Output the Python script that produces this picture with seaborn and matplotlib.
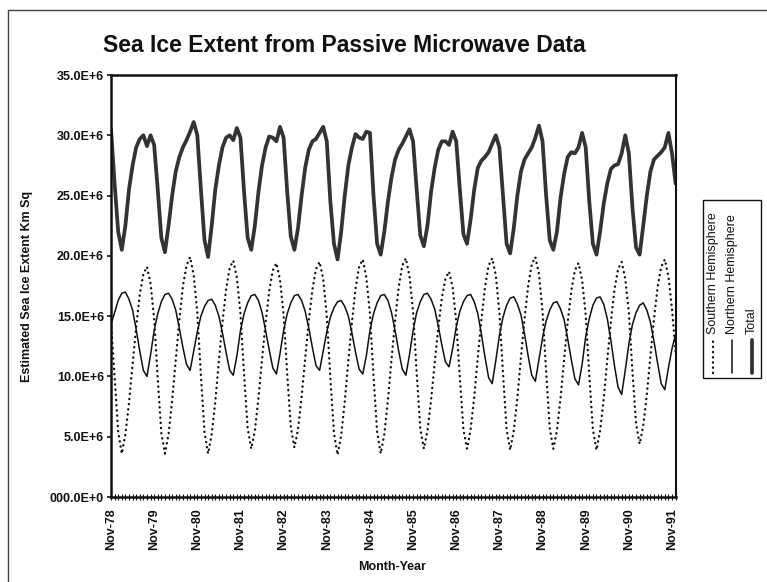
import numpy as np
import pandas as pd
import matplotlib
matplotlib.use("Agg")
import matplotlib.pyplot as plt
import seaborn as sns
from matplotlib.lines import Line2D
from matplotlib.patches import Rectangle

# ---- data (million km^2), monthly from Nov-78 to Dec-91 ----
northern = [
    14.3, 15.3, 16.3, 16.9, 17.0, 16.4, 15.5, 13.9, 12.1, 10.5, 10.0, 11.8,
    13.8, 15.2, 16.2, 16.8, 16.9, 16.4, 15.5, 14.0, 12.4, 11.0, 10.5, 12.1,
    13.7, 15.0, 15.8, 16.3, 16.4, 15.9, 15.0, 13.6, 12.0, 10.5, 10.1, 11.7,
    13.8, 15.2, 16.1, 16.7, 16.8, 16.3, 15.3, 13.8, 12.2, 10.7, 10.2, 11.9,
    13.8, 15.2, 16.1, 16.7, 16.8, 16.3, 15.4, 14.0, 12.4, 10.9, 10.5, 12.1,
    13.7, 14.9, 15.7, 16.2, 16.3, 15.8, 15.0, 13.6, 12.0, 10.6, 10.2, 11.7,
    13.8, 15.2, 16.1, 16.7, 16.8, 16.3, 15.3, 13.8, 12.1, 10.6, 10.1, 11.8,
    13.8, 15.3, 16.2, 16.8, 16.9, 16.4, 15.6, 14.2, 12.6, 11.2, 10.8, 12.3,
    14.1, 15.4, 16.2, 16.7, 16.8, 16.2, 15.2, 13.5, 11.6, 9.9, 9.4, 11.3,
    13.4, 14.9, 15.9, 16.5, 16.6, 16.0, 15.1, 13.5, 11.7, 10.1, 9.6, 11.4,
    13.2, 14.6, 15.5, 16.1, 16.2, 15.6, 14.7, 13.1, 11.4, 9.8, 9.3, 11.0,
    13.3, 14.8, 15.9, 16.5, 16.6, 16.0, 14.8, 13.0, 10.9, 9.1, 8.5, 10.5,
    12.7, 14.3, 15.3, 15.9, 16.1, 15.5, 14.5, 12.9, 11.1, 9.4, 8.9, 10.7,
    12.3, 13.5,
]
southern = [
    14.5, 10.0, 5.4, 3.6, 5.2, 7.8, 11.0, 14.1, 16.8, 18.5, 19.1, 17.7,
    14.8, 9.8, 5.3, 3.6, 5.2, 8.0, 11.4, 14.7, 17.5, 19.2, 19.9, 18.4,
    15.3, 10.1, 5.4, 3.6, 5.2, 7.9, 11.3, 14.5, 17.2, 19.0, 19.6, 18.2,
    15.2, 10.2, 5.7, 4.0, 5.5, 8.2, 11.4, 14.5, 17.1, 18.8, 19.4, 18.0,
    15.1, 10.2, 5.8, 4.1, 5.6, 8.3, 11.5, 14.6, 17.2, 18.9, 19.5, 18.1,
    15.0, 9.9, 5.3, 3.5, 5.1, 7.9, 11.3, 14.5, 17.3, 19.1, 19.7, 18.2,
    15.2, 10.0, 5.4, 3.6, 5.2, 8.0, 11.4, 14.6, 17.4, 19.2, 19.8, 18.3,
    15.4, 10.3, 5.7, 4.0, 5.5, 8.0, 11.1, 14.0, 16.5, 18.1, 18.7, 17.4,
    14.6, 9.9, 5.6, 4.0, 5.6, 8.3, 11.6, 14.7, 17.4, 19.2, 19.8, 18.4,
    15.3, 10.3, 5.6, 3.9, 5.5, 8.2, 11.6, 14.8, 17.5, 19.3, 19.9, 18.5,
    15.4, 10.4, 5.7, 4.0, 5.5, 8.2, 11.4, 14.5, 17.1, 18.8, 19.4, 18.0,
    15.1, 10.1, 5.6, 3.9, 5.5, 8.1, 11.4, 14.5, 17.2, 18.9, 19.5, 18.1,
    15.3, 10.4, 6.1, 4.4, 5.9, 8.5, 11.7, 14.8, 17.4, 19.1, 19.7, 18.3,
    15.6, 12.0,
]
total = [
    30.5, 26.0, 22.0, 20.5, 22.5, 25.5, 27.5, 29.0, 29.7, 30.0, 29.1, 30.0,
    29.2, 25.5, 21.5, 20.3, 22.5, 25.0, 27.0, 28.2, 29.0, 29.6, 30.3, 31.1,
    30.0, 25.5, 21.3, 19.9, 22.5, 25.5, 27.5, 29.0, 29.8, 30.0, 29.6, 30.6,
    29.8, 25.3, 21.5, 20.5, 22.5, 25.3, 27.5, 29.0, 29.9, 29.8, 29.5, 30.7,
    29.8, 25.3, 21.6, 20.5, 22.3, 25.0, 27.3, 28.8, 29.5, 29.7, 30.2, 30.7,
    29.5, 24.5, 21.0, 19.7, 22.0, 25.0, 27.5, 29.0, 30.1, 29.8, 29.7, 30.3,
    30.2, 25.0, 21.0, 20.1, 22.0, 24.5, 26.5, 28.0, 28.8, 29.3, 29.9, 30.5,
    29.5, 25.5, 21.7, 20.8, 22.5, 25.3, 27.3, 28.8, 29.5, 29.5, 29.2, 30.3,
    29.5, 25.5, 21.8, 21.0, 23.0, 25.5, 27.3, 27.9, 28.2, 28.6, 29.3, 30.0,
    29.0, 25.0, 21.0, 20.2, 22.3, 25.0, 27.0, 28.0, 28.5, 29.0, 29.8, 30.8,
    29.5, 25.0, 21.3, 20.5, 22.0, 24.8, 26.8, 28.2, 28.6, 28.5, 29.0, 30.2,
    29.0, 24.5, 21.0, 20.1, 22.0, 24.3, 26.0, 27.2, 27.5, 27.6, 28.5, 30.0,
    28.5, 24.0, 20.7, 20.1, 22.5, 25.0, 27.0, 28.0, 28.3, 28.6, 29.0, 30.2,
    28.5, 26.0,
]
x_tick_labels = ["Nov-78", "Nov-79", "Nov-80", "Nov-81", "Nov-82", "Nov-83", "Nov-84",
                 "Nov-85", "Nov-86", "Nov-87", "Nov-88", "Nov-89", "Nov-90", "Nov-91"]
y_tick_values = [0, 5, 10, 15, 20, 25, 30, 35]
y_tick_labels = ["000.0E+0", "5.0E+6", "10.0E+6", "15.0E+6", "20.0E+6",
                 "25.0E+6", "30.0E+6", "35.0E+6"]
series_names = ["Southern Hemisphere", "Northern Hemisphere", "Total"]

sns.set_theme(style="white")
plt.rcParams["font.family"] = ["Liberation Sans", "DejaVu Sans"]

W, H = 767, 582
fig = plt.figure(figsize=(W / 100, H / 100), dpi=100)
fig.patch.set_facecolor("white")

def fx(x):
    return x / W

def fy(y):
    return 1 - y / H

ax_left, ax_right, ax_top, ax_bottom = 111, 675.6, 75, 497
ax = fig.add_axes([fx(ax_left), fy(ax_bottom), fx(ax_right - ax_left), (ax_bottom - ax_top) / H])
ax.set_facecolor("white")

months = np.arange(len(total))
df = pd.DataFrame({"month": months,
                   series_names[0]: southern,
                   series_names[1]: northern,
                   series_names[2]: total})

sns.lineplot(data=df, x="month", y=series_names[0], ax=ax, color="#111111",
             linewidth=1.7, linestyle=(0, (0.1, 2.1)), dash_capstyle="round")
sns.lineplot(data=df, x="month", y=series_names[1], ax=ax, color="#111111",
             linewidth=1.1)
sns.lineplot(data=df, x="month", y=series_names[2], ax=ax, color="#333333",
             linewidth=2.7, solid_joinstyle="round")

ax.set_xlim(0, len(total) - 1)
ax.set_ylim(0, 35)
ax.set_xlabel("")
ax.set_ylabel("")

ax.set_yticks(y_tick_values)
ax.set_yticklabels(y_tick_labels, fontsize=9, fontweight="bold")
ax.set_xticks(np.arange(0, len(total), 12))
ax.set_xticklabels(x_tick_labels, rotation=90, fontsize=9, fontweight="bold")
ax.set_xticks(months, minor=True)
ax.tick_params(axis="y", which="major", direction="out", length=3, width=1.2,
               pad=2, left=True, colors="#111111")
ax.tick_params(axis="x", which="major", direction="inout", length=4, width=0.8,
               pad=6, bottom=True, colors="#111111")
ax.tick_params(axis="x", which="minor", direction="inout", length=4, width=0.8,
               bottom=True, color="#111111")

for side in ["left", "bottom", "top"]:
    ax.spines[side].set_linewidth(1.8)
    ax.spines[side].set_color("#111111")
ax.spines["right"].set_linewidth(1.5)
ax.spines["right"].set_color("#111111")

# titles and axis labels
fig.text(fx(344), fy(52), "Sea Ice Extent from Passive Microwave Data",
         ha="center", va="baseline", fontsize=16.5, fontweight="bold",
         color="#111111")
fig.text(fx(27), fy(286), "Estimated Sea Ice Extent Km Sq", rotation=90,
         ha="center", va="center", fontsize=9, fontweight="bold", color="#111111")
fig.text(fx(392), fy(567), "Month-Year", ha="center", va="center",
         fontsize=9, fontweight="bold", color="#111111")

# rotated legend box
fig.add_artist(Rectangle((fx(703), fy(378)), fx(761 - 703), (378 - 200) / H,
                         transform=fig.transFigure, fill=False,
                         edgecolor="#111111", linewidth=1.0))
leg_x = [713, 732, 752]
styles = [dict(color="#111111", linewidth=1.7, linestyle=(0, (0.1, 2.1)),
               dash_capstyle="round"),
          dict(color="#111111", linewidth=1.1),
          dict(color="#333333", linewidth=2.7)]
for xx, name, st in zip(leg_x, series_names, styles):
    fig.add_artist(Line2D([fx(xx), fx(xx)], [fy(373), fy(340)],
                          transform=fig.transFigure, **st))
    fig.text(fx(xx), fy(334), name, rotation=90, ha="center", va="bottom",
             fontsize=9, color="#111111")

# outer chart-area frame (top and left edges visible)
fig.add_artist(Line2D([fx(8), fx(767)], [fy(10), fy(10)], transform=fig.transFigure,
                      color="#444444", linewidth=1.0))
fig.add_artist(Line2D([fx(8), fx(8)], [fy(10), fy(582)], transform=fig.transFigure,
                      color="#444444", linewidth=1.0))

fig.savefig("out.png", dpi=100, facecolor="white")
